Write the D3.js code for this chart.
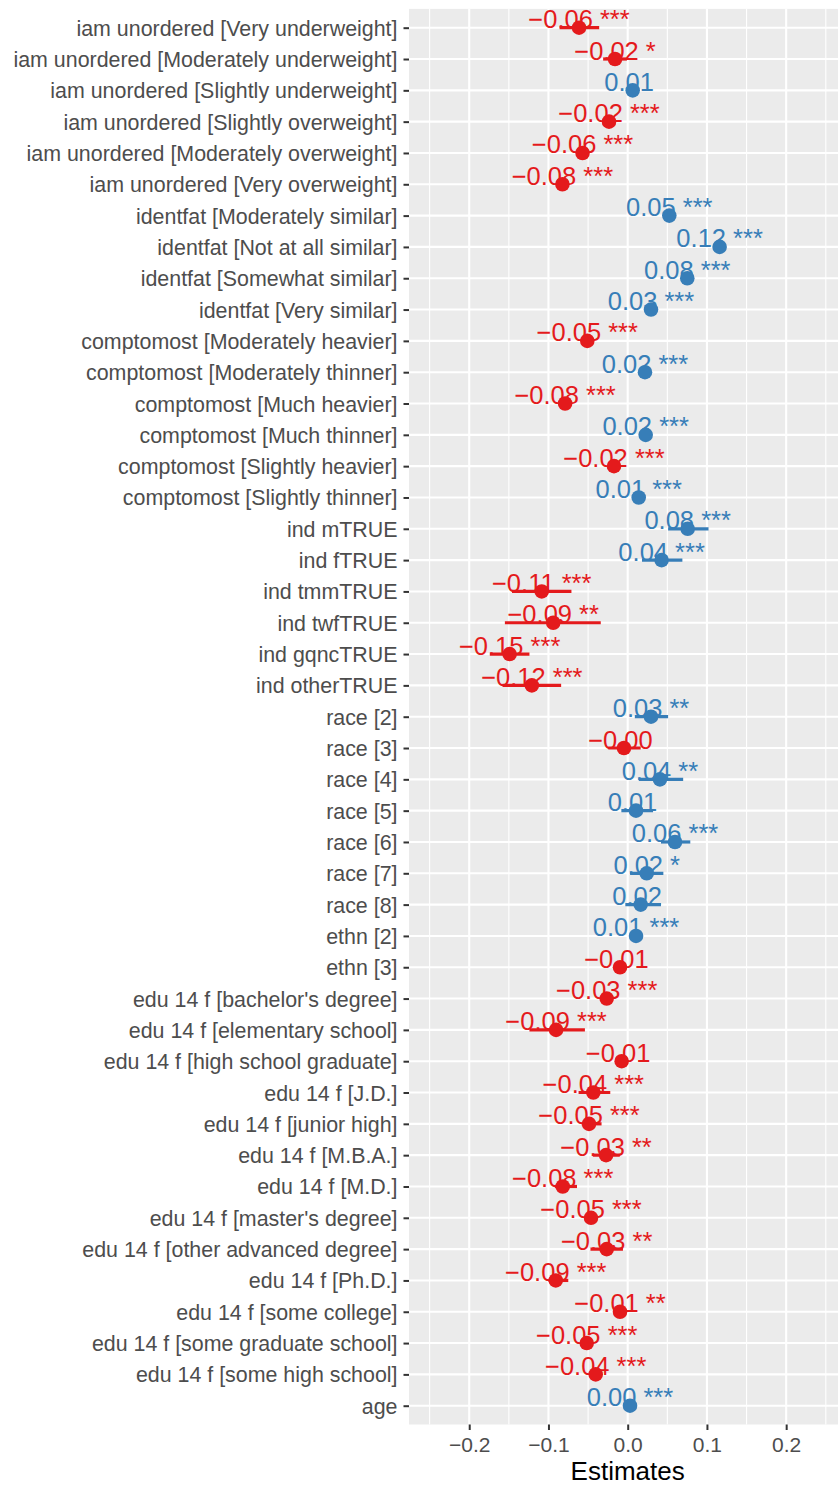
<!DOCTYPE html>
<html>
<head>
<meta charset="utf-8">
<script src="https://cdn.jsdelivr.net/npm/d3@7"></script>
<style>
  body { margin: 0; background: #fff; }
  svg text { font-family: "Liberation Sans", Arial, sans-serif; }
</style>
</head>
<body>
<div id="chart"></div>
<script>
// model terms, top to bottom
const terms = [
    "iam unordered [Very underweight]", "iam unordered [Moderately underweight]",
    "iam unordered [Slightly underweight]", "iam unordered [Slightly overweight]",
    "iam unordered [Moderately overweight]", "iam unordered [Very overweight]",
    "identfat [Moderately similar]", "identfat [Not at all similar]",
    "identfat [Somewhat similar]", "identfat [Very similar]",
    "comptomost [Moderately heavier]", "comptomost [Moderately thinner]",
    "comptomost [Much heavier]", "comptomost [Much thinner]",
    "comptomost [Slightly heavier]", "comptomost [Slightly thinner]",
    "ind mTRUE", "ind fTRUE", "ind tmmTRUE", "ind twfTRUE", "ind gqncTRUE", "ind otherTRUE",
    "race [2]", "race [3]", "race [4]", "race [5]", "race [6]", "race [7]", "race [8]",
    "ethn [2]", "ethn [3]",
    "edu 14 f [bachelor's degree]", "edu 14 f [elementary school]",
    "edu 14 f [high school graduate]", "edu 14 f [J.D.]", "edu 14 f [junior high]",
    "edu 14 f [M.B.A.]", "edu 14 f [M.D.]", "edu 14 f [master's degree]",
    "edu 14 f [other advanced degree]", "edu 14 f [Ph.D.]", "edu 14 f [some college]",
    "edu 14 f [some graduate school]", "edu 14 f [some high school]", "age"
];

const estimates = [
    -0.0614, -0.016, 0.0063, -0.0236, -0.057, -0.0824,
    0.0525, 0.116, 0.0752, 0.0294,
    -0.051, 0.0218, -0.079, 0.0227, -0.0173, 0.0139,
    0.0757, 0.0428, -0.1085, -0.094, -0.149, -0.121,
    0.0294, -0.0047, 0.0407, 0.0105, 0.0597, 0.024, 0.0164,
    0.0105, -0.0097,
    -0.0265, -0.0904, -0.0076, -0.0434, -0.0488, -0.0273, -0.082, -0.0463,
    -0.0265, -0.0908, -0.0097, -0.0517, -0.0404, 0.0029
];

const ciLow = [
    -0.086, -0.031, 0.001, -0.029, -0.062, -0.088,
    0.047, 0.109, 0.069, 0.024,
    -0.056, 0.016, -0.085, 0.017, -0.023, 0.009,
    0.051, 0.018, -0.146, -0.155, -0.174, -0.158,
    0.009, -0.0245, 0.014, -0.008, 0.042, 0.003, -0.003,
    0.006, -0.018,
    -0.032, -0.124, -0.015, -0.062, -0.058, -0.044, -0.092, -0.052,
    -0.047, -0.100, -0.016, -0.057, -0.046, 0.001
];

const ciHigh = [
    -0.036, -0.001, 0.011, -0.018, -0.052, -0.077,
    0.058, 0.122, 0.081, 0.035,
    -0.046, 0.027, -0.073, 0.028, -0.012, 0.019,
    0.102, 0.069, -0.071, -0.034, -0.124, -0.084,
    0.051, 0.0164, 0.070, 0.032, 0.079, 0.045, 0.042,
    0.015, -0.001,
    -0.021, -0.054, 0.000, -0.022, -0.033, -0.010, -0.064, -0.041,
    -0.006, -0.075, -0.003, -0.046, -0.035, 0.005
];

const pStars = [
    "***", "*", "", "***", "***", "***",
    "***", "***", "***", "***",
    "***", "***", "***", "***", "***", "***",
    "***", "***", "***", "**", "***", "***",
    "**", "", "**", "", "***", "*", "",
    "***", "",
    "***", "***", "", "***", "***", "**", "***", "***",
    "**", "***", "**", "***", "***", "***"
];

const xTicks = [-0.2, -0.1, 0.0, 0.1, 0.2];
const xMinor = [-0.25, -0.15, -0.05, 0.05, 0.15, 0.25];

const width = 838, height = 1487;
const panel = { left: 409, right: 846.4, top: 8.9, bottom: 1424.5 };

const rows = terms.map((t, i) => ({
    term: t, est: estimates[i], lo: ciLow[i], hi: ciHigh[i], stars: pStars[i]
}));

const svg = d3.select("#chart").append("svg")
    .attr("width", width)
    .attr("height", height);

const x = d3.scaleLinear()
    .domain([-0.276, 0.276])
    .range([panel.left, panel.right]);

const y = d3.scalePoint()
    .domain(terms)
    .range([panel.top, panel.bottom])
    .padding(0.6);

// keep the minus sign on values that round to zero (R prints -0.00)
const fmt2 = d3.format(".2f");
const fmt = v => (v < 0 ? "\u2212" : "") + fmt2(Math.abs(v));
const colorOf = v => v < 0 ? "#e41a1c" : "#377eb8";

// panel background
svg.append("rect")
    .attr("x", panel.left)
    .attr("y", panel.top)
    .attr("width", panel.right - panel.left)
    .attr("height", panel.bottom - panel.top)
    .attr("fill", "#ebebeb");

// gridlines
svg.append("g").selectAll("line")
    .data(xMinor)
    .join("line")
    .attr("x1", d => x(d)).attr("x2", d => x(d))
    .attr("y1", panel.top).attr("y2", panel.bottom)
    .attr("stroke", "#fff").attr("stroke-width", 1.1);

svg.append("g").selectAll("line")
    .data(xTicks)
    .join("line")
    .attr("x1", d => x(d)).attr("x2", d => x(d))
    .attr("y1", panel.top).attr("y2", panel.bottom)
    .attr("stroke", "#fff").attr("stroke-width", 2.1);

svg.append("g").selectAll("line")
    .data(terms)
    .join("line")
    .attr("x1", panel.left).attr("x2", panel.right)
    .attr("y1", d => y(d)).attr("y2", d => y(d))
    .attr("stroke", "#fff").attr("stroke-width", 2.1);

// value labels
svg.append("g").selectAll("text")
    .data(rows)
    .join("text")
    .attr("x", d => x(d.est))
    .attr("y", d => y(d.term) + 0.5)
    .attr("text-anchor", "middle")
    .style("white-space", "pre")
    .attr("font-size", 25.5)
    .attr("fill", d => colorOf(d.est))
    .text(d => fmt(d.est) + " " + d.stars);

// confidence intervals
svg.append("g").selectAll("line")
    .data(rows)
    .join("line")
    .attr("x1", d => x(d.lo)).attr("x2", d => x(d.hi))
    .attr("y1", d => y(d.term)).attr("y2", d => y(d.term))
    .attr("stroke", d => colorOf(d.est))
    .attr("stroke-width", 3.2);

// point estimates
svg.append("g").selectAll("circle")
    .data(rows)
    .join("circle")
    .attr("cx", d => x(d.est))
    .attr("cy", d => y(d.term))
    .attr("r", 7.3)
    .attr("fill", d => colorOf(d.est));

// y axis
const yAxis = svg.append("g")
    .attr("transform", "translate(" + panel.left + ",0)")
    .call(d3.axisLeft(y).tickSize(5.5).tickPadding(6));
yAxis.select(".domain").remove();
yAxis.selectAll(".tick line").attr("stroke", "#333").attr("stroke-width", 2);
yAxis.selectAll(".tick text")
    .attr("font-size", 21.4)
    .attr("fill", "#4d4d4d")
    .attr("dy", "0.35em");

// x axis
const xAxis = svg.append("g")
    .attr("transform", "translate(0," + panel.bottom + ")")
    .call(d3.axisBottom(x).tickValues(xTicks).tickSize(5.5).tickFormat(d3.format(".1f")));
xAxis.select(".domain").remove();
xAxis.selectAll(".tick line").attr("stroke", "#333").attr("stroke-width", 2);
xAxis.selectAll(".tick text")
    .attr("font-size", 21)
    .attr("fill", "#4d4d4d")
    .attr("y", 27)
    .attr("dy", 0);

// axis title
svg.append("text")
    .attr("x", (panel.left + panel.right) / 2)
    .attr("y", 1480)
    .attr("text-anchor", "middle")
    .attr("font-size", 26)
    .attr("fill", "#000")
    .text("Estimates");
</script>
</body>
</html>
